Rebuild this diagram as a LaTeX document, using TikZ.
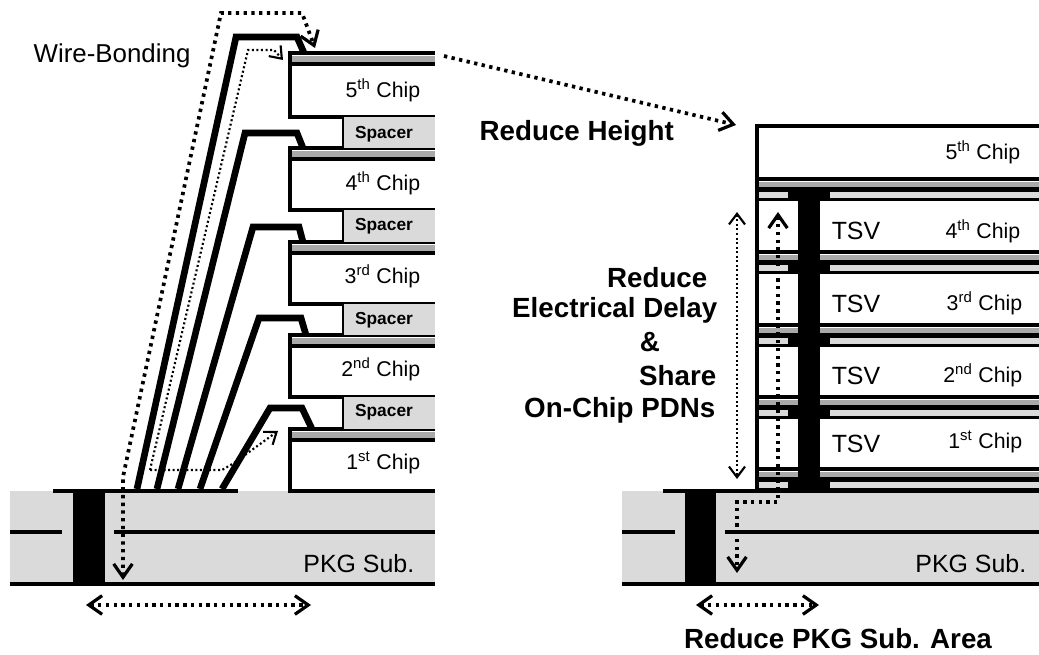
\documentclass[tikz,border=0pt]{standalone}
\usepackage{fontspec}
\setmainfont{Liberation Sans}
\usetikzlibrary{arrows.meta}
\definecolor{subgray}{HTML}{DADADA}
\definecolor{bandgray}{HTML}{A9A9A9}
\tikzset{
  wire/.style={line width=5pt,line join=miter},
  barline/.style={line width=3.2pt},
  fatdots/.style={line width=2.8pt,dash pattern=on 2.5pt off 3.3pt},
  thindots/.style={line width=1.6pt,dash pattern=on 1.5pt off 1.9pt},
  fatbarb/.tip={Straight Barb[length=10pt,width=14pt,line width=2.4pt]},
  thinbarb/.tip={Straight Barb[length=8pt,width=12pt,line width=1.6pt]},
  chiplabel/.style={anchor=east,font=\fontsize{16}{18}\selectfont},
  bigbold/.style={font=\fontsize{20.8}{24}\selectfont\bfseries},
  biglabel/.style={font=\fontsize{18.7}{20}\selectfont}
}
\begin{document}
\begin{tikzpicture}[x=0.75pt,y=-0.75pt]
  \useasboundingbox (0,0) rectangle (1039,655);
  % Package substrate on the left
  \fill[subgray] (10,491) rectangle (435,584);
  \fill[black] (73,491) rectangle (105,584);
  \draw[line width=3.6pt] (10,584) -- (435,584);
  \draw[barline] (53,491) -- (238,491);
  \draw[barline] (10,532) -- (62,532);
  \draw[barline] (114,532) -- (435,532);
  \node[biglabel,anchor=east] (subleft) at (419,564) {PKG Sub.};
  % Left stack of chips
  \foreach \t/\b in {53/117,148/210,242/304,335/397,429/491}{
    \fill[bandgray] (290,\t+3) rectangle (435,\t+9);
    \draw[barline] (435,\t) -- (290,\t) -- (290,\b) -- (435,\b);
    \draw[barline] (290,\t+11) -- (435,\t+11);
  }
  \foreach \y/\lab/\suf in {90/5/th,183/4/th,276/3/rd,369/2/nd,463/1/st}{
    \node[chiplabel] (chip\lab) at (425,\y) {\lab\textsuperscript{\suf} Chip};
  }
  % Spacers between the chips
  \foreach \t/\b/\m in {117/148/134,210/242/226,304/335/320,397/429/412}{
    \fill[subgray] (344,\t) rectangle (435,\b);
    \draw[line width=2pt] (343,\t) -- (343,\b);
    \node[font=\fontsize{13}{15}\selectfont\bfseries] (spacer\m) at (384,\m) {Spacer};
  }
  % Bonding wires
  \draw[wire] (137,489) -- (236,37) -- (297,37) -- (304,53);
  \draw[wire] (157,489) -- (245,133) -- (297,133) -- (303,148);
  \draw[wire] (178,489) -- (253,227) -- (299,227) -- (303,242);
  \draw[wire] (200,489) -- (259,318) -- (301,318) -- (306,335);
  \draw[wire] (222,489) -- (270,408) -- (302,408) -- (312,429);
  \node[font=\fontsize{19.4}{20}\selectfont,anchor=west] (wirebonding) at (29,56) {Wire-Bonding};
  % Dotted paths of the left stack
  \coordinate (lenbot) at (123,580);
  \coordinate (lentop) at (315,48);
  \draw[fatdots,fatbarb-fatbarb] (lenbot) -- (123,477) -- (221,13) -- (302,13) -- (lentop);
  \coordinate (thinstart) at (150,470);
  \coordinate (thintop) at (283,60);
  \coordinate (thinbot) at (278,431);
  \draw[thindots,-thinbarb] (thinstart) -- (248,50) -- (274,50) -- (thintop);
  \draw[thindots,-thinbarb] (thinstart) -- (222,470) -- (234,463) -- (thinbot);
  \coordinate (widthl) at (86,605);
  \coordinate (widthr) at (311,605);
  \draw[fatdots,fatbarb-fatbarb] (widthl) -- (widthr);
  % Arrow across to the right stack
  \coordinate (acrossl) at (444,56);
  \coordinate (acrossr) at (736,125);
  \draw[fatdots,-fatbarb] (acrossl) -- (acrossr);
  \node[bigbold,anchor=west] (height) at (475,133) {Reduce Height};
  % Package substrate on the right
  \fill[subgray] (622,491) rectangle (1039,584);
  \fill[black] (685,491) rectangle (716,584);
  \draw[line width=3.6pt] (622,584) -- (1039,584);
  \draw[barline] (663,491) -- (1039,491);
  \draw[barline] (622,532) -- (675,532);
  \draw[barline] (725,532) -- (1039,532);
  \node[biglabel,anchor=east] (subright) at (1031,564) {PKG Sub.};
  % Right stack with the bands of each chip
  \draw[barline] (1039,126) -- (757,126) -- (757,491);
  \foreach \t in {179,252,325,397,469}{
    \fill[bandgray] (759,\t+3) rectangle (1039,\t+9);
    \fill[subgray] (759,\t+12) rectangle (1039,\t+19);
    \draw[barline] (759,\t) -- (1039,\t);
    \draw[barline] (759,\t+10.5) -- (1039,\t+10.5);
    \draw[line width=2.6pt] (759,\t+20.5) -- (1039,\t+20.5);
    \fill[black] (788,\t+10) rectangle (830,\t+22);
  }
  \fill[black] (798,189) rectangle (820,491);
  \foreach \y/\lab/\suf/\xr in {152/5/th/1025,231/4/th/1025,303/3/rd/1027,375/2/nd/1027,442/1/st/1027}{
    \node[chiplabel] (rchip\lab) at (\xr,\y) {\lab\textsuperscript{\suf} Chip};
  }
  \foreach \y in {231,304,376,444}{
    \node[biglabel] (tsv\y) at (856,\y) {TSV};
  }
  % Dotted paths of the right stack
  \coordinate (tsvtop) at (778,212);
  \coordinate (tsvbot) at (737,573);
  \draw[fatdots,fatbarb-fatbarb] (tsvtop) -- (778,502) -- (737,502) -- (tsvbot);
  \coordinate (delaytop) at (737,212);
  \coordinate (delaybot) at (737,479);
  \draw[thindots,thinbarb-thinbarb] (delaytop) -- (delaybot);
  \coordinate (areal) at (696,605);
  \coordinate (arear) at (819,605);
  \draw[fatdots,fatbarb-fatbarb] (areal) -- (arear);
  % Remaining texts
  \node[bigbold,anchor=east] (reduce) at (712,278) {Reduce};
  \node[bigbold,anchor=east] (delay) at (722,310) {Electrical Delay};
  \node[bigbold] (and) at (650,342) {\&};
  \node[bigbold,anchor=east] (share) at (721,376) {Share};
  \node[bigbold,anchor=east] (pdns) at (720,410) {On-Chip PDNs};
  \node[bigbold] (area) at (838,639) {Reduce PKG Sub. Area};
\end{tikzpicture}
\end{document}
